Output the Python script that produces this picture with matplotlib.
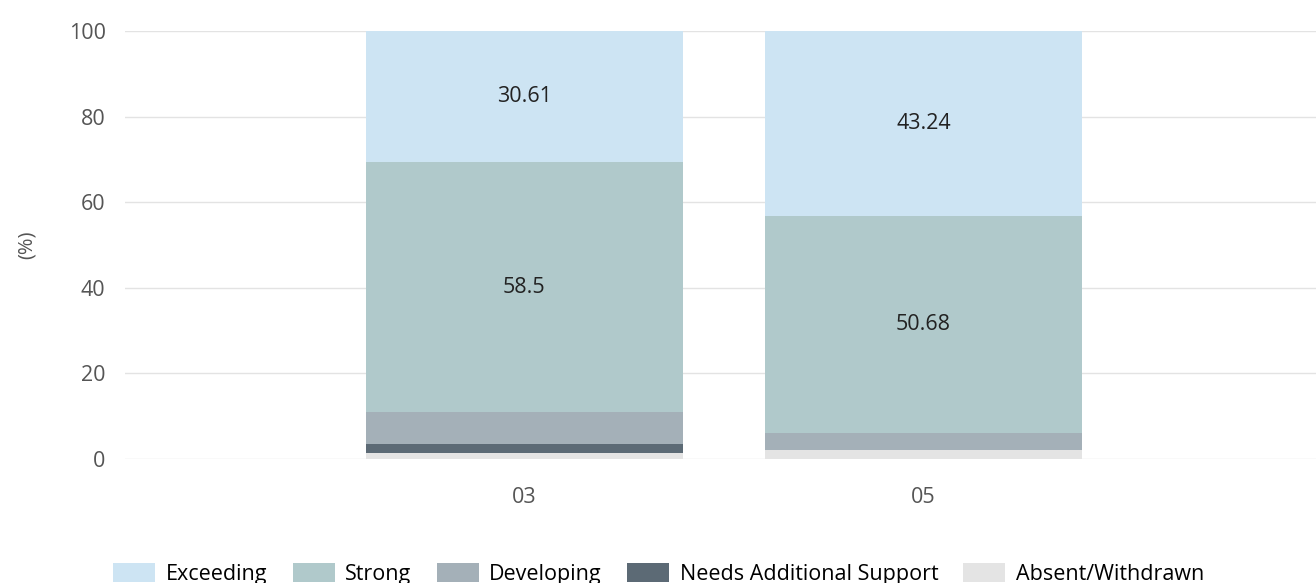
import numpy as np
import matplotlib.pyplot as plt

plt.rcParams['font.family'] = ['Open Sans', 'DejaVu Sans']

grades = ["03", "05"]
exceeding = [30.61, 43.24]
strong = [58.5, 50.68]
developing = [7.48, 4.05]
needs_support = [2.04, 0.0]
absent = [1.37, 2.03]

series = [
    ("Absent/Withdrawn", absent, "#e4e4e4"),
    ("Needs Additional Support", needs_support, "#5c6a75"),
    ("Developing", developing, "#a4b0b8"),
    ("Strong", strong, "#b0c9cb"),
    ("Exceeding", exceeding, "#cde4f3"),
]
labelled = {"Strong", "Exceeding"}
fs = 15.5

fig = plt.figure(figsize=(13.16, 5.83), dpi=100)
ax = fig.add_axes([0.095, 0.2127, 0.91, 0.7341])

x = np.arange(len(grades))
bottom = np.zeros(len(grades))
handles = {}
for name, vals, color in series:
    vals = np.array(vals)
    bars = ax.bar(x, vals, width=0.795, bottom=bottom, color=color,
                  edgecolor="none", zorder=2)
    handles[name] = bars
    if name in labelled:
        for xi, b, v in zip(x, bottom, vals):
            ax.text(xi, b + v / 2, f"{v:g}", ha="center", va="center",
                    fontsize=fs, color="#222222", zorder=3)
    bottom += vals

ax.set_xlim(-1, 2)
ax.set_ylim(0, 100)
ax.set_yticks([0, 20, 40, 60, 80, 100])
ax.set_xticks(x)
ax.set_xticklabels(grades)
ax.grid(axis="y", color="#e3e3e3", linewidth=1, zorder=0)
ax.tick_params(axis="both", length=0, labelsize=fs, colors="#555555")
ax.tick_params(axis="y", pad=14)
ax.tick_params(axis="x", pad=20)
for s in ax.spines.values():
    s.set_visible(False)
ax.set_ylabel("(%)", fontsize=fs - 1, color="#555555", labelpad=23)

order = ["Exceeding", "Strong", "Developing", "Needs Additional Support", "Absent/Withdrawn"]
fig.legend([handles[n] for n in order], order, loc="center left",
           bbox_to_anchor=(0.078, 0.016), ncol=5, frameon=False, fontsize=fs,
           handlelength=1.95, handleheight=1.02, handletextpad=0.5,
           columnspacing=1.16, borderpad=0)

fig.savefig("out.png", dpi=100)
